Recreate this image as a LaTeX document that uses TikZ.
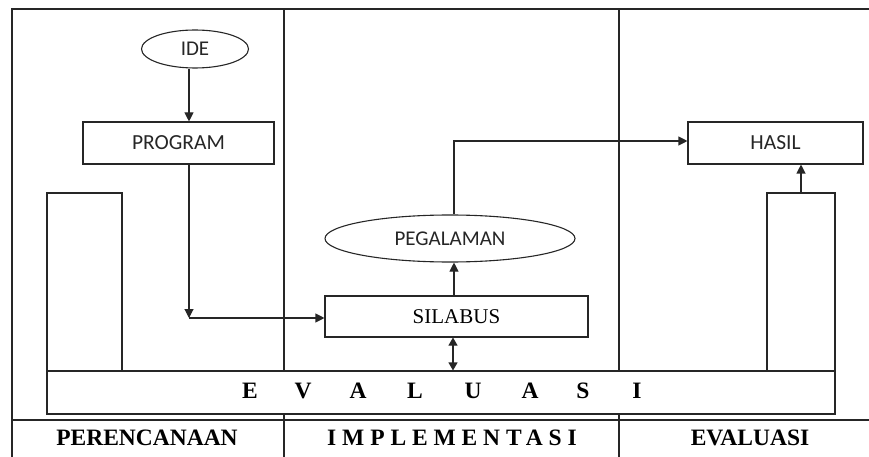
\documentclass[tikz,border=0pt]{standalone}
\usepackage{fontspec}
\setmainfont{Liberation Serif}
\newfontfamily\carl{Carlito}
\usetikzlibrary{arrows.meta,shapes.geometric}
\tikzset{
  ln/.style={line width=1.1pt,draw=black!85},
  sbox/.style={ln,rectangle,inner sep=0pt,font=\carl\fontsize{21.5}{24}\selectfont,text=black!85},
  ebox/.style={ln,ellipse,inner sep=0pt,font=\carl\fontsize{21}{24}\selectfont,text=black!85},
  tbox/.style={ln,rectangle,inner sep=0pt,font=\fontsize{21}{24}\selectfont},
  hdr/.style={inner sep=0pt,font=\bfseries\fontsize{23.5}{26}\selectfont},
  arr/.style={ln,-{Triangle[length=9pt,width=9pt]}},
  darr/.style={ln,{Triangle[length=8pt,width=9pt]}-{Triangle[length=8pt,width=9pt]}},
}
\begin{document}
\begin{tikzpicture}[x=1pt,y=-1pt]
\useasboundingbox (0,0) rectangle (869,457);
% frame
\draw[ln] (12,457) -- (12,9) -- (869,9);
\draw[ln] (12,420) -- (869,420);
\draw[ln] (284,9) -- (284,371);
\draw[ln] (284,414) -- (284,457);
\draw[ln] (619,9) -- (619,371);
\draw[ln] (619,414) -- (619,457);
% nodes
\node[ebox,minimum width=107pt,minimum height=38pt] (ide) at (195,49) {IDE};
\node[sbox,minimum width=191pt,minimum height=42pt] (program) at (178.5,143) {PROGRAM};
\node[sbox,minimum width=175pt,minimum height=42pt] (hasil) at (775.5,143) {HASIL};
\node[ln,rectangle,minimum width=75pt,minimum height=178pt,inner sep=0pt] (leftbar) at (84.5,282) {};
\node[ln,rectangle,minimum width=68pt,minimum height=178pt,inner sep=0pt] (rightbar) at (801,282) {};
\node[ebox,minimum width=250pt,minimum height=47pt] (pegalaman) at (450,238.5) {PEGALAMAN};
\node[tbox,minimum width=263pt,minimum height=41pt] (silabus) at (456.5,316.5) {SILABUS};
\node[ln,rectangle,minimum width=788pt,minimum height=43pt,inner sep=0pt] (evaluasi) at (441,392.5) {};
\foreach \c/\x [count=\i] in {E/250,V/303,A/358,L/415,U/473,A/530,S/583,I/637}
  \node[hdr,name=ev\i] at (\x,391) {\c};
% headers
\node[hdr] (h1) at (147,438) {PERENCANAAN};
\node[hdr] (h2) at (452,438) {\addfontfeatures{LetterSpace=25}IMPLEMENTASI};
\node[hdr] (h3) at (750,438) {EVALUASI};
% connectors
\coordinate (c1) at (189,318);
\coordinate (mx) at (454,141);
\coordinate (dx) at (453,371);
\draw[arr] (c1 |- ide.south) -- (c1 |- program.north);
\draw[arr] (c1 |- program.south) -- (c1);
\draw[arr] (c1) -- (c1 -| silabus.west);
\draw[darr] (dx |- silabus.south) -- (dx |- evaluasi.north);
\draw[arr] (mx |- silabus.north) -- (mx |- pegalaman.south);
\draw[arr] (mx |- pegalaman.north) -- (mx) -- (mx -| hasil.west);
\draw[arr] (rightbar.north) -- (rightbar.north |- hasil.south);
\end{tikzpicture}
\end{document}
